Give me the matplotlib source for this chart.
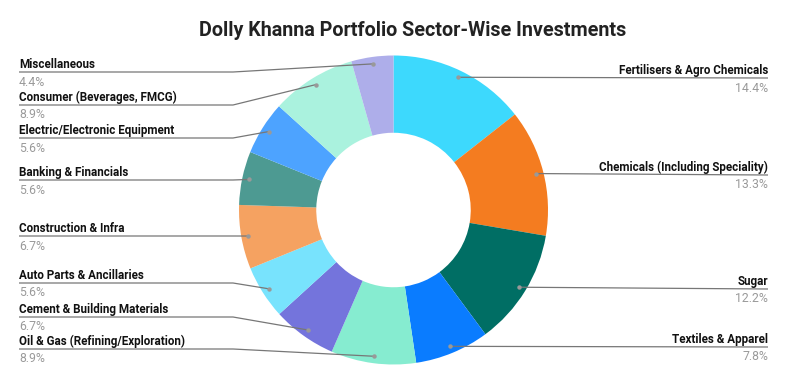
import numpy as np
import matplotlib
matplotlib.use("Agg")
import matplotlib.pyplot as plt

# sector data (clockwise from top)
sectors = ["Fertilisers & Agro Chemicals", "Chemicals (Including Speciality)", "Sugar",
           "Textiles & Apparel", "Oil & Gas (Refining/Exploration)", "Cement & Building Materials",
           "Auto Parts & Ancillaries", "Construction & Infra", "Banking & Financials",
           "Electric/Electronic Equipment", "Consumer (Beverages, FMCG)", "Miscellaneous"]
shares = [14.4, 13.3, 12.2, 7.8, 8.9, 6.7, 5.6, 6.7, 5.6, 5.6, 8.9, 4.4]
colors = ["#3dd9fd", "#f47c20", "#006e64", "#0a7cff", "#86ecd0", "#7474dc",
          "#78e3fd", "#f5a261", "#4d9a92", "#4da3ff", "#aaf2de", "#aeaeea"]

# label layout (pixel rows of leader lines, side of chart)
label_y = [78, 175, 289, 347, 349, 317, 283, 236, 180, 138, 105, 72]
label_side = ["R", "R", "R", "R", "L", "L", "L", "L", "L", "L", "L", "L"]

W, H = 788, 385
cx, cy, R = 393.5, 210, 154.5

plt.rcParams['font.family'] = ['Roboto', 'DejaVu Sans']
fig = plt.figure(figsize=(W / 100, H / 100), dpi=100)
ax = fig.add_axes([0, 0, 1, 1])

wedges, _ = ax.pie(shares, colors=colors, startangle=-90, counterclock=True,
                   center=(cx, cy), radius=R,
                   wedgeprops=dict(width=R * 0.5, linewidth=0))
ax.set_xlim(0, W)
ax.set_ylim(H, 0)
ax.set_aspect('equal')
ax.axis('off')

line_c = "#777777"
for w, name, pct, ly, side in zip(wedges, sectors, shares, label_y, label_side):
    mid = np.deg2rad((w.theta1 + w.theta2) / 2)
    px = cx + 0.955 * R * np.cos(mid)
    py = cy + 0.955 * R * np.sin(mid)
    if side == "L":
        ax.plot([19, 233, px], [ly, ly, py], color=line_c, lw=0.9, solid_capstyle='butt')
        tx, ha = 19, 'left'
    else:
        ax.plot([px, 768], [py, ly], color=line_c, lw=0.9, solid_capstyle='butt')
        tx, ha = 768, 'right'
    ax.plot(px, py, 'o', color="#999999", ms=3.2, mec='none')
    ax.text(tx, ly - 4, name, ha=ha, va='baseline', fontsize=8.4, fontweight='bold',
            color="#111111")
    ax.text(tx, ly + 13.5, f"{pct}%", ha=ha, va='baseline', fontsize=8.8,
            color="#9a9a9a")

ax.text(413, 31, "Dolly Khanna Portfolio Sector-Wise Investments", ha='center',
        va='center', fontsize=14.2, fontweight='bold', color="#222222")

fig.savefig("out.png", dpi=100)
